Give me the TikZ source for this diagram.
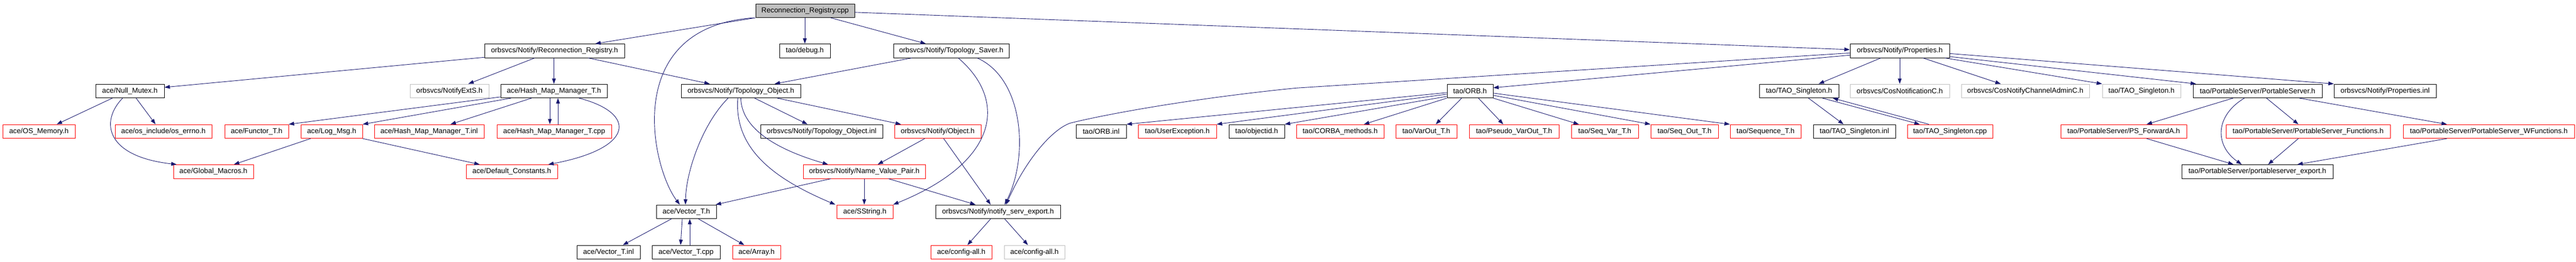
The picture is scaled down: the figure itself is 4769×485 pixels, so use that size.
\documentclass[tikz,border=0pt]{standalone}
\usepackage{fontspec}
\setmainfont{Liberation Sans}
\usetikzlibrary{arrows.meta,calc}
\definecolor{edgeblue}{HTML}{191970}
\definecolor{bgray}{HTML}{BFBFBF}
\begin{document}
\begin{tikzpicture}[x=1pt,y=-1pt,
  box/.style={draw=black,line width=1pt,minimum height=25.5pt,inner sep=0pt,fill=white,font=\fontsize{13.3}{16}\selectfont},
  redb/.style={box,draw=red},
  grayb/.style={box,draw=bgray},
  rootb/.style={box,fill=bgray},
  dep/.style={draw=edgeblue,line width=0.9pt,-{Triangle[length=10pt,width=7pt]}}]
\fill[white] (0,0) rectangle (4769,485);
\useasboundingbox (0,0) rectangle (4769,485);
% row 0
\node[rootb,minimum width=183pt] (R) at (1490.5,19.8) {Reconnection\_Registry.cpp};
% row 1
\node[box,minimum width=259pt] (rrh) at (1026.5,94.3) {orbsvcs/Notify/Reconnection\_Registry.h};
\node[box,minimum width=94pt] (dbg) at (1490,94.3) {tao/debug.h};
\node[box,minimum width=214pt] (tsh) at (1761,94.3) {orbsvcs/Notify/Topology\_Saver.h};
\node[box,minimum width=184pt] (ph) at (3517,94.3) {orbsvcs/Notify/Properties.h};
% row 2
\node[box,minimum width=127pt] (nm) at (240.5,168.8) {ace/Null\_Mutex.h};
\node[grayb,minimum width=146pt] (nes) at (832,168.8) {orbsvcs/NotifyExtS.h};
\node[box,minimum width=197pt] (hmh) at (1025.5,168.8) {ace/Hash\_Map\_Manager\_T.h};
\node[box,minimum width=221pt] (toh) at (1371.5,168.8) {orbsvcs/Notify/Topology\_Object.h};
\node[box,minimum width=85pt] (orbh) at (2721.5,168.8) {tao/ORB.h};
\node[box,minimum width=147pt] (tsgh) at (3330.5,168.8) {tao/TAO\_Singleton.h};
\node[grayb,minimum width=184pt] (cnc) at (3517,168.8) {orbsvcs/CosNotificationC.h};
\node[grayb,minimum width=237pt] (cnca) at (3749.5,168.8) {orbsvcs/CosNotifyChannelAdminC.h};
\node[grayb,minimum width=145pt] (tsg2) at (3964.5,168.8) {tao/TAO\_Singleton.h};
\node[box,minimum width=239pt] (psh) at (4179.5,168.8) {tao/PortableServer/PortableServer.h};
\node[box,minimum width=189pt] (pinl) at (4415.5,168.8) {orbsvcs/Notify/Properties.inl};
% row 3
\node[redb,minimum width=134pt] (osm) at (72,243.8) {ace/OS\_Memory.h};
\node[redb,minimum width=179pt] (err) at (302.5,243.8) {ace/os\_include/os\_errno.h};
\node[redb,minimum width=118pt] (fun) at (475,243.8) {ace/Functor\_T.h};
\node[redb,minimum width=114pt] (log) at (614,243.8) {ace/Log\_Msg.h};
\node[redb,minimum width=203pt] (hmi) at (794.5,243.8) {ace/Hash\_Map\_Manager\_T.inl};
\node[redb,minimum width=212pt] (hmc) at (1026,243.8) {ace/Hash\_Map\_Manager\_T.cpp};
\node[box,minimum width=226pt] (toi) at (1521,243.8) {orbsvcs/Notify/Topology\_Object.inl};
\node[redb,minimum width=160pt] (obj) at (1736,243.8) {orbsvcs/Notify/Object.h};
\node[box,minimum width=93pt] (orbi) at (2038.5,243.8) {tao/ORB.inl};
\node[redb,minimum width=145pt] (uex) at (2179.5,243.8) {tao/UserException.h};
\node[box,minimum width=103pt] (oid) at (2326.5,243.8) {tao/objectid.h};
\node[redb,minimum width=162pt] (cm) at (2481,243.8) {tao/CORBA\_methods.h};
\node[redb,minimum width=113pt] (vo) at (2640.5,243.8) {tao/VarOut\_T.h};
\node[redb,minimum width=166pt] (pvo) at (2803,243.8) {tao/Pseudo\_VarOut\_T.h};
\node[redb,minimum width=124pt] (sv) at (2971,243.8) {tao/Seq\_Var\_T.h};
\node[redb,minimum width=125pt] (so) at (3118.5,243.8) {tao/Seq\_Out\_T.h};
\node[redb,minimum width=131pt] (seq) at (3268.5,243.8) {tao/Sequence\_T.h};
\node[box,minimum width=152pt] (tsi) at (3433,243.8) {tao/TAO\_Singleton.inl};
\node[redb,minimum width=158pt] (tsc) at (3610,243.8) {tao/TAO\_Singleton.cpp};
\node[redb,minimum width=233pt] (psf) at (3931.5,243.8) {tao/PortableServer/PS\_ForwardA.h};
\node[redb,minimum width=304pt] (psfn) at (4273,243.8) {tao/PortableServer/PortableServer\_Functions.h};
\node[redb,minimum width=317pt] (psw) at (4607.5,243.8) {tao/PortableServer/PortableServer\_WFunctions.h};
% row 4
\node[redb,minimum width=148pt] (gm) at (395,318.3) {ace/Global\_Macros.h};
\node[redb,minimum width=169pt] (dc) at (947.5,318.3) {ace/Default\_Constants.h};
\node[redb,minimum width=226pt] (nvp) at (1600,318.3) {orbsvcs/Notify/Name\_Value\_Pair.h};
\node[box,minimum width=280pt] (pse) at (4179,318.3) {tao/PortableServer/portableserver\_export.h};
% row 5
\node[box,minimum width=111pt] (vth) at (1270.5,392.8) {ace/Vector\_T.h};
\node[redb,minimum width=104pt] (ss) at (1601,392.8) {ace/SString.h};
\node[box,minimum width=231pt] (nse) at (1847.5,392.8) {orbsvcs/Notify/notify\_serv\_export.h};
% row 6
\node[box,minimum width=117pt] (vti) at (1126.5,467.8) {ace/Vector\_T.inl};
\node[box,minimum width=126pt] (vtc) at (1270,467.8) {ace/Vector\_T.cpp};
\node[redb,minimum width=89pt] (arr) at (1400.5,467.8) {ace/Array.h};
\node[redb,minimum width=113pt] (cfg1) at (1779.5,467.8) {ace/config-all.h};
\node[grayb,minimum width=112pt] (cfg2) at (1915,467.8) {ace/config-all.h};
% edges from root
\draw[dep] (R.south west) -- ($(rrh.north)+(75.5,0)$);
\draw[dep] ($(R.south west)+(-3,0)$) .. controls +(-246,17) and +(-53,-70) .. ($(vth.north)+(-12,0)$);
\draw[dep] (R.south -| dbg.north) -- (dbg.north);
\draw[dep] ($(R.south)+(47.5,0)$) -- ($(tsh.north)+(-47,0)$);
\draw[dep] ($(R.east)+(0,3)$) -- ($(ph.west)+(0,-2.3)$);
% Reconnection_Registry.h
\draw[dep] ($(rrh.west)+(0,12)$) -- ($(nm.east)+(0,-6.8)$);
\draw[dep] ($(rrh.south)+(-36.5,0)$) -- ($(nes.north)+(35,0)$);
\draw[dep] (rrh.south -| hmh.north) -- (hmh.north);
\draw[dep] ($(rrh.south)+(62.5,0)$) -- ($(toh.north)+(-57.5,0)$);
% Hash_Map_Manager_T.h
\draw[dep] ($(hmh.west)+(0,11)$) -- (fun.north east);
\draw[dep] ($(hmh.south)+(-79.5,0)$) -- (log.north east);
\draw[dep] ($(hmh.south)+(-41.5,0)$) -- ($(hmi.north)+(39.5,0)$);
\draw[dep] ($(hmh.south)+(-7.5,0)$) -- ($(hmc.north)+(-8,0)$);
\draw[dep] ($(hmc.north)+(7,0)$) -- ($(hmh.south)+(7.5,0)$);
\draw[dep] ($(hmh.south)+(46.5,0)$) .. controls +(108,28) and +(160,-30) .. ($(dc.north)+(67.5,0)$);
% Log_Msg.h
\draw[dep] ($(log.south)+(-39,0)$) -- ($(gm.north)+(38,0)$);
\draw[dep] (log.south east) -- ($(dc.north)+(-59.5,0)$);
% Null_Mutex.h
\draw[dep] ($(nm.south)+(-32.5,0)$) -- ($(osm.north)+(33,0)$);
\draw[dep] ($(nm.south)+(-13.5,0)$) .. controls +(-42,43) and +(-132,-15) .. ($(gm.north)+(-68,0)$);
\draw[dep] ($(nm.south)+(11.5,0)$) -- ($(err.north)+(-14.5,0)$);
% Topology_Object.h
\draw[dep] ($(toh.south)+(-23.5,0)$) .. controls +(-48,48) and +(1,-60) .. ($(vth.north)+(-1.5,0)$);
\draw[dep] ($(toh.south)+(-5.5,0)$) .. controls +(-8,98) and +(-106,-45) .. ($(ss.north west)+(-2,0)$);
\draw[dep] ($(toh.south)+(25.5,0)$) -- ($(toi.north)+(-26,0)$);
\draw[dep] (toh.south) .. controls +(1,53) and +(-103,-30) .. ($(nvp.north)+(-67,0)$);
\draw[dep] ($(toh.south)+(67.5,0)$) -- ($(obj.north)+(-68,0)$);
% Topology_Saver.h
\draw[dep] ($(tsh.south)+(-73,0)$) -- ($(toh.north)+(62.5,0)$);
\draw[dep] ($(tsh.south)+(13,0)$) .. controls +(91,78) and +(197,-80) .. ($(ss.north east)+(0,0)$);
\draw[dep] ($(tsh.south)+(48,0)$) .. controls +(86,38) and +(45,-90) .. ($(nse.north)+(12.5,0)$);
% Object.h
\draw[dep] ($(obj.south)+(-24,0)$) -- ($(nvp.north)+(25,0)$);
\draw[dep] ($(obj.south)+(11,0)$) -- ($(nse.north)+(-13.5,0)$);
% Name_Value_Pair.h
\draw[dep] ($(nvp.south)+(-62,0)$) -- ($(vth.north)+(54.5,0)$);
\draw[dep] (nvp.south) -- (nvp.south |- ss.north);
\draw[dep] ($(nvp.south)+(45,0)$) -- ($(nse.north)+(-41.5,0)$);
% Vector_T.h
\draw[dep] ($(vth.south)+(-27.5,0)$) -- ($(vti.north)+(26.5,0)$);
\draw[dep] ($(vth.south)+(-7.5,0)$) -- ($(vtc.north)+(-10,0)$);
\draw[dep] ($(vtc.north)+(7,0)$) -- ($(vth.south)+(6.5,0)$);
\draw[dep] ($(vth.south)+(22.5,0)$) -- ($(arr.north)+(-22.5,0)$);
% notify_serv_export.h
\draw[dep] ($(nse.south)+(-13.5,0)$) -- ($(cfg1.north)+(11.5,0)$);
\draw[dep] ($(nse.south)+(12.5,0)$) -- ($(cfg2.north)+(-12,0)$);
% Properties.h
\draw[dep] ($(ph.west)+(0,8)$) -- ($(orbh.east)+(0,-6)$);
\draw[dep] ($(ph.west)+(0,4)$) -- ($(ph.west)+(-1025,69)$) .. controls +(-200,20) and +(60,-15) .. ($(ph.west)+(-1443,134)$) .. controls +(-30,10) and +(40,-90) .. ($(nse.north)+(15,0)$);
\draw[dep] ($(ph.south)+(-35,0)$) -- ($(tsgh.north)+(36.5,0)$);
\draw[dep] (ph.south) -- (cnc.north);
\draw[dep] ($(ph.south)+(43,0)$) -- ($(cnca.north)+(-45.5,0)$);
\draw[dep] ($(ph.south east)+(-9,0)$) -- (tsg2.north west);
\draw[dep] ($(ph.east)+(0,10.7)$) -- ($(psh.north west)+(6,0)$);
\draw[dep] ($(ph.east)+(0,5)$) -- (pinl.north west);
% ORB.h
\draw[dep] ($(orbh.west)+(0,3)$) -- (orbi.north east);
\draw[dep] ($(orbh.west)+(0,6)$) -- (uex.north east);
\draw[dep] ($(orbh.west)+(0,10)$) -- (oid.north east);
\draw[dep] (orbh.south west) -- ($(cm.north)+(44,0)$);
\draw[dep] ($(orbh.south)+(-15.5,0)$) -- ($(vo.north)+(17.5,0)$);
\draw[dep] ($(orbh.south)+(15.5,0)$) -- ($(pvo.north)+(-20,0)$);
\draw[dep] (orbh.south east) -- ($(sv.north)+(-48,0)$);
\draw[dep] ($(orbh.east)+(0,8)$) -- (so.north west);
\draw[dep] ($(orbh.east)+(0,4)$) -- (seq.north west);
% TAO_Singleton.h
\draw[dep] ($(tsgh.south)+(17.5,0)$) -- ($(tsi.north)+(-20,0)$);
\draw[dep] ($(tsgh.south)+(43.5,0)$) -- ($(tsc.north)+(-56,0)$);
\draw[dep] ($(tsc.north)+(-39,0)$) -- ($(tsgh.south)+(62.5,0)$);
% PortableServer.h
\draw[dep] ($(psh.south)+(-45.5,0)$) -- ($(psf.north)+(42.5,0)$);
\draw[dep] ($(psh.south)+(-24.5,0)$) .. controls +(-55,33) and +(-50,-35) .. ($(pse.north)+(-29,0)$);
\draw[dep] ($(psh.south)+(16.5,0)$) -- ($(psfn.north)+(-18,0)$);
\draw[dep] ($(psh.south)+(77.5,0)$) -- ($(psw.north)+(-77.5,0)$);
\draw[dep] ($(psf.south)+(42.5,0)$) -- ($(pse.north)+(-44,0)$);
\draw[dep] ($(psfn.south)+(-18,0)$) -- ($(pse.north)+(20,0)$);
\draw[dep] ($(psw.south)+(-77.5,0)$) -- ($(pse.north)+(74,0)$);
\end{tikzpicture}
\end{document}
